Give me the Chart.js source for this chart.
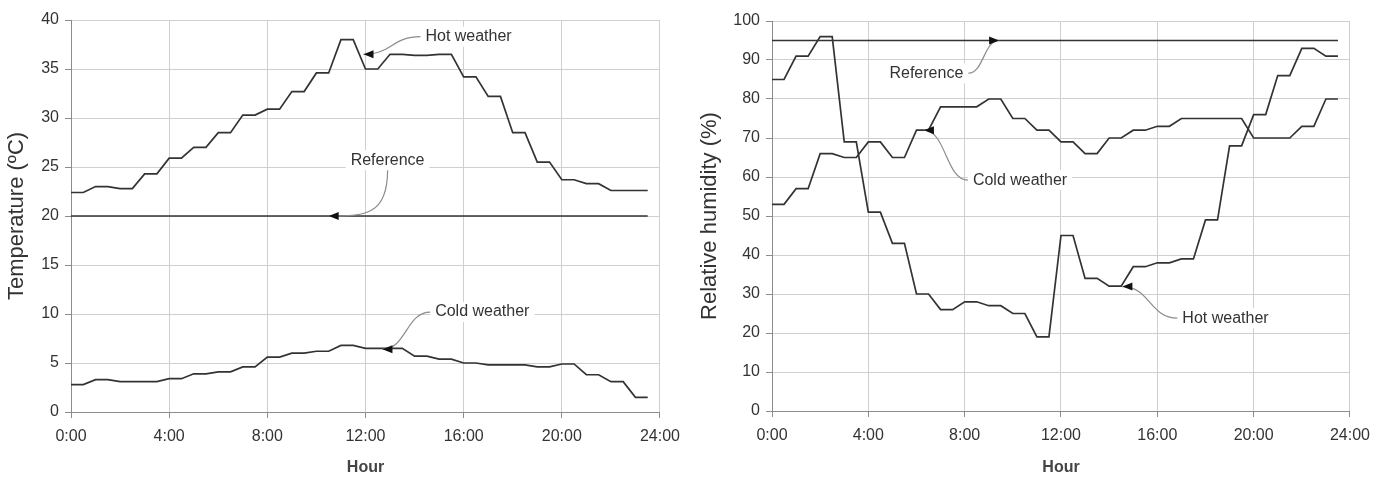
<!DOCTYPE html>
<html>
<head>
<meta charset="utf-8">
<script src="https://cdn.jsdelivr.net/npm/chart.js@4.4.1/dist/chart.umd.min.js"></script>
<style>
  html, body { margin: 0; padding: 0; background: #ffffff; overflow: hidden; }
  #wrap { position: relative; width: 1374px; height: 479px; overflow: hidden; }
  #temp-chart { position: absolute; left: 0; top: 0; }
  #rh-chart { position: absolute; left: 685px; top: 0; }
</style>
</head>
<body>
<div id="wrap">
  <canvas id="temp-chart" width="689" height="479"></canvas>
  <canvas id="rh-chart" width="694" height="479"></canvas>
</div>
<script>
// Half-hourly readings, 0:00 .. 23:30
const hours = [
  0, 0.5, 1, 1.5, 2, 2.5, 3, 3.5, 4, 4.5, 5, 5.5,
  6, 6.5, 7, 7.5, 8, 8.5, 9, 9.5, 10, 10.5, 11, 11.5,
  12, 12.5, 13, 13.5, 14, 14.5, 15, 15.5, 16, 16.5, 17, 17.5,
  18, 18.5, 19, 19.5, 20, 20.5, 21, 21.5, 22, 22.5, 23, 23.5
];

// Temperature (ºC)
const tempHot = [
  22.4, 22.4, 23.0, 23.0, 22.8, 22.8, 24.3, 24.3, 25.9, 25.9, 27.0, 27.0,
  28.5, 28.5, 30.3, 30.3, 30.9, 30.9, 32.7, 32.7, 34.6, 34.6, 38.0, 38.0,
  35.0, 35.0, 36.5, 36.5, 36.4, 36.4, 36.5, 36.5, 34.2, 34.2, 32.2, 32.2,
  28.5, 28.5, 25.5, 25.5, 23.7, 23.7, 23.3, 23.3, 22.6, 22.6, 22.6, 22.6
];
const tempCold = [
  2.8, 2.8, 3.3, 3.3, 3.1, 3.1, 3.1, 3.1, 3.4, 3.4, 3.9, 3.9,
  4.1, 4.1, 4.6, 4.6, 5.6, 5.6, 6.0, 6.0, 6.2, 6.2, 6.8, 6.8,
  6.5, 6.5, 6.5, 6.5, 5.7, 5.7, 5.4, 5.4, 5.0, 5.0, 4.8, 4.8,
  4.8, 4.8, 4.6, 4.6, 4.9, 4.9, 3.8, 3.8, 3.1, 3.1, 1.5, 1.5
];

// Relative humidity (%)
const rhHot = [
  85, 85, 91, 91, 96, 96, 69, 69, 51, 51, 43, 43,
  30, 30, 26, 26, 28, 28, 27, 27, 25, 25, 19, 19,
  45, 45, 34, 34, 32, 32, 37, 37, 38, 38, 39, 39,
  49, 49, 68, 68, 76, 76, 86, 86, 93, 93, 91, 91
];
const rhCold = [
  53, 53, 57, 57, 66, 66, 65, 65, 69, 69, 65, 65,
  72, 72, 78, 78, 78, 78, 80, 80, 75, 75, 72, 72,
  69, 69, 66, 66, 70, 70, 72, 72, 73, 73, 75, 75,
  75, 75, 75, 75, 70, 70, 70, 70, 73, 73, 80, 80
];

// Reference conditions
const referenceHours = [0, 23.5];
const tempReference = [20, 20];
const rhReference = [95, 95];

const FONT = '"Liberation Sans", Arial, Helvetica, sans-serif';
Chart.defaults.font.family = FONT;
Chart.defaults.font.size = 16;
Chart.defaults.color = '#333333';

function toPoints(xs, ys) {
  return xs.map((x, i) => ({ x: x, y: ys[i] }));
}

function lineDataset(xs, ys) {
  return {
    data: toPoints(xs, ys),
    borderColor: '#333333',
    borderWidth: 1.7,
    pointRadius: 0,
    fill: false,
    tension: 0
  };
}

// Text labels with a curved leader line and a small arrowhead
const calloutPlugin = {
  id: 'callouts',
  afterDatasetsDraw(chart, args, opts) {
    const ctx = chart.ctx;
    const xs = chart.scales.x;
    const ys = chart.scales.y;
    ctx.save();
    ctx.font = '16px ' + FONT;
    (opts.items || []).forEach((c) => {
      const tx = xs.getPixelForValue(c.labelAt[0]);
      const ty = ys.getPixelForValue(c.labelAt[1]);
      const ax = xs.getPixelForValue(c.tip[0]);
      const ay = ys.getPixelForValue(c.tip[1]);
      const w = ctx.measureText(c.text).width;

      // white patch behind the text
      ctx.fillStyle = '#ffffff';
      ctx.fillRect(tx - w / 2 - 5, ty - 10, w + 10, 20);

      let sx, sy, c1, c2;
      if (c.from === 'bottom') {
        sx = tx; sy = ty + 10;
        c1 = [sx, ay];
        c2 = [sx + (ax - sx) * 0.4, ay];
      } else {
        sx = c.from === 'left' ? tx - w / 2 - 5 : tx + w / 2 + 5;
        sy = ty;
        const mx = (sx + ax) / 2;
        c1 = [mx, sy];
        c2 = [mx, ay];
      }

      ctx.strokeStyle = '#8c8c8c';
      ctx.lineWidth = 1.2;
      ctx.beginPath();
      ctx.moveTo(sx, sy);
      ctx.bezierCurveTo(c1[0], c1[1], c2[0], c2[1], ax, ay);
      ctx.stroke();

      // arrowhead along the end tangent
      const ang = Math.atan2(ay - c2[1], ax - c2[0]);
      const len = 10, half = 4;
      ctx.fillStyle = '#111111';
      ctx.beginPath();
      ctx.moveTo(ax, ay);
      ctx.lineTo(ax - len * Math.cos(ang) + half * Math.sin(ang), ay - len * Math.sin(ang) - half * Math.cos(ang));
      ctx.lineTo(ax - len * Math.cos(ang) - half * Math.sin(ang), ay - len * Math.sin(ang) + half * Math.cos(ang));
      ctx.closePath();
      ctx.fill();

      ctx.fillStyle = '#333333';
      ctx.textAlign = 'center';
      ctx.textBaseline = 'middle';
      ctx.fillText(c.text, tx, ty);
    });
    ctx.restore();
  }
};

function makeChart(canvasId, cfg) {
  const ctx = document.getElementById(canvasId).getContext('2d');
  return new Chart(ctx, {
    type: 'line',
    data: {
      datasets: [
        lineDataset(hours, cfg.hot),
        lineDataset(hours, cfg.cold),
        lineDataset(referenceHours, cfg.reference)
      ]
    },
    options: {
      responsive: false,
      animation: false,
      layout: {
        padding: { top: cfg.padTop, right: cfg.padRight, left: 0, bottom: 0 }
      },
      scales: {
        x: {
          type: 'linear',
          min: 0,
          max: 24,
          afterFit: (scale) => { scale.height = cfg.xHeight; },
          ticks: {
            stepSize: 4,
            padding: 9,
            maxRotation: 0,
            callback: (v) => v + ':00'
          },
          grid: { color: '#cfcfcf', tickColor: '#8c8c8c', tickLength: 6 },
          border: { color: '#8c8c8c' },
          title: {
            display: true,
            text: 'Hour',
            font: { size: 16, weight: 'bold' },
            color: '#444444',
            padding: { top: 0, bottom: 2 }
          }
        },
        y: {
          min: 0,
          max: cfg.yMax,
          afterFit: (scale) => { scale.width = cfg.yWidth; },
          ticks: { stepSize: cfg.yStep, padding: 6 },
          grid: { color: '#cfcfcf', tickColor: '#8c8c8c', tickLength: 6 },
          border: { color: '#8c8c8c' },
          title: {
            display: true,
            text: cfg.yTitle,
            font: { size: 22 },
            padding: { top: cfg.yTitlePad, bottom: 0 }
          }
        }
      },
      plugins: {
        legend: { display: false },
        tooltip: { enabled: false },
        callouts: { items: cfg.callouts }
      }
    },
    plugins: [calloutPlugin]
  });
}

makeChart('temp-chart', {
  hot: tempHot,
  cold: tempCold,
  reference: tempReference,
  yMax: 40,
  yStep: 5,
  yTitle: 'Temperature (ºC)',
  yWidth: 71,
  yTitlePad: 4,
  xHeight: 67,
  padTop: 20,
  padRight: 26,
  callouts: [
    { text: 'Hot weather', labelAt: [16.2, 38.3], tip: [11.92, 36.5], from: 'left' },
    { text: 'Reference', labelAt: [12.9, 25.7], tip: [10.5, 20], from: 'bottom' },
    { text: 'Cold weather', labelAt: [16.76, 10.2], tip: [12.69, 6.4], from: 'left' }
  ]
});

makeChart('rh-chart', {
  hot: rhHot,
  cold: rhCold,
  reference: rhReference,
  yMax: 100,
  yStep: 10,
  yTitle: 'Relative humidity (%)',
  yWidth: 87,
  yTitlePad: 12,
  xHeight: 68,
  padTop: 21,
  padRight: 28,
  callouts: [
    { text: 'Reference', labelAt: [6.41, 86.6], tip: [9.43, 95], from: 'right' },
    { text: 'Cold weather', labelAt: [10.3, 59.2], tip: [6.31, 72], from: 'left' },
    { text: 'Hot weather', labelAt: [18.83, 23.8], tip: [14.55, 31.9], from: 'left' }
  ]
});
</script>
</body>
</html>
